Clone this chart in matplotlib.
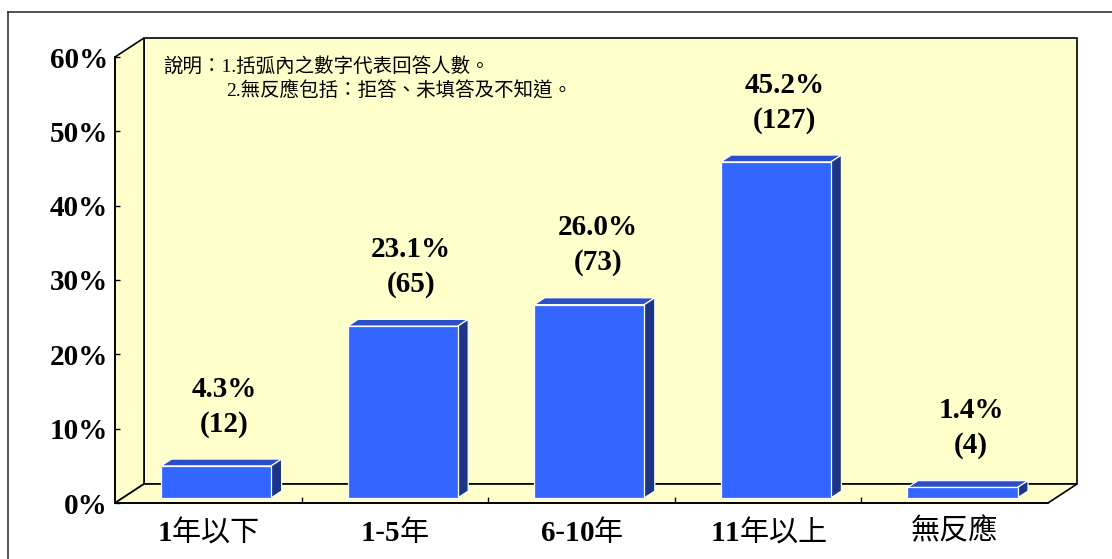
import re
import matplotlib.pyplot as plt
from matplotlib.patches import Polygon
from matplotlib.lines import Line2D

# data
categories = ['1年以下', '1-5年', '6-10年', '11年以上', '無反應']
percents = [4.3, 23.1, 26.0, 45.2, 1.4]
counts = [12, 65, 73, 127, 4]
yticks = [0, 10, 20, 30, 40, 50, 60]
ytick_labels = ['0%', '10%', '20%', '30%', '40%', '50%', '60%']
note_line1 = '說明：1.括弧內之數字代表回答人數。'
note_line2 = '2.無反應包括：拒答、未填答及不知道。'

plt.rcParams['font.family'] = ['Liberation Serif', 'Noto Sans CJK TC']
plt.rcParams['mathtext.fontset'] = 'custom'
plt.rcParams['mathtext.bf'] = 'Liberation Serif:bold'
plt.rcParams['mathtext.rm'] = 'Liberation Serif'


def mixed_label(s):
    # bold latin digits, regular CJK (mathtext for the digits)
    return re.sub(r'([0-9]+)', r'$\\mathbf{\1}$', s)


W, H = 1112, 559
fig = plt.figure(figsize=(W / 100, H / 100), dpi=100)

# front plane of the 3d box, in pixels
left, right, bottom, top = 115, 1048, 503, 57
ax = fig.add_axes([left / W, (H - bottom) / H, (right - left) / W, (bottom - top) / H])
n = len(categories)
ymax = 60
ax.set_xlim(0, n)
ax.set_ylim(0, ymax)

# depth of the box in data units (29 px right, 19 px up)
dx = 29 / (right - left) * n
dy = 19 / (bottom - top) * ymax

wall = '#FFFFCC'
edge_kw = dict(edgecolor='black', linewidth=1.2, clip_on=False, joinstyle='miter')
# back wall, left wall, floor
ax.add_patch(Polygon([(dx, dy), (n + dx, dy), (n + dx, ymax + dy), (dx, ymax + dy)],
                     facecolor=wall, zorder=0, **edge_kw))
ax.add_patch(Polygon([(0, 0), (dx, dy), (dx, ymax + dy), (0, ymax)],
                     facecolor=wall, zorder=0, **edge_kw))
ax.add_patch(Polygon([(0, 0), (n, 0), (n + dx, dy), (dx, dy)],
                     facecolor=wall, zorder=0, **edge_kw))

# bars
bw = 0.59
f0, f1 = 0.27, 0.63
front_c, top_c, side_c = '#3366FF', '#2A4FC6', '#1C3585'
bar_kw = dict(edgecolor='white', linewidth=0.9, clip_on=False, zorder=3)
for i, (p, c) in enumerate(zip(percents, counts)):
    x0 = i + 0.5 - bw / 2 + f0 * dx
    x1 = x0 + bw
    y0 = f0 * dy
    y1 = y0 + p
    ox = (f1 - f0) * dx
    oy = (f1 - f0) * dy
    ax.add_patch(Polygon([(x0, y1), (x1, y1), (x1 + ox, y1 + oy), (x0 + ox, y1 + oy)],
                         facecolor=top_c, **bar_kw))
    ax.add_patch(Polygon([(x1, y0), (x1 + ox, y0 + oy), (x1 + ox, y1 + oy), (x1, y1)],
                         facecolor=side_c, **bar_kw))
    ax.add_patch(Polygon([(x0, y0), (x1, y0), (x1, y1), (x0, y1)],
                         facecolor=front_c, **bar_kw))
    xc = (x0 + x1) / 2 + ox * 0.8
    ax.annotate(f'({c})', (xc, y1 + oy), xytext=(0, 20), textcoords='offset points',
                ha='center', va='baseline', fontsize=21, fontweight='bold', zorder=4)
    ax.annotate(f'{p:.1f}%', (xc, y1 + oy), xytext=(0, 45), textcoords='offset points',
                ha='center', va='baseline', fontsize=21, fontweight='bold', zorder=4)

# axes, ticks
for s in ['top', 'right']:
    ax.spines[s].set_visible(False)
for s in ['left', 'bottom']:
    ax.spines[s].set_linewidth(1.2)
    ax.spines[s].set_zorder(2)
ax.set_facecolor('none')
ax.set_yticks(yticks)
ax.set_yticklabels(ytick_labels, fontsize=21, fontweight='bold')
ax.tick_params(axis='y', direction='in', length=3.5, width=1, pad=5)
ax.set_xticks([i + 0.5 for i in range(n)])
ax.set_xticklabels([mixed_label(c) for c in categories], fontsize=21,
                   family='Noto Sans CJK TC')
ax.set_xticks(range(1, n), minor=True)
ax.tick_params(axis='x', which='major', length=0, pad=10)
ax.tick_params(axis='x', which='minor', direction='in', length=4.5, width=1)

# note on the back wall
note_kw = dict(fontsize=14, va='center', ha='left', zorder=5)
fig.text(163 / W, 1 - 66 / H, note_line1, **note_kw)
fig.text(226 / W, 1 - 91 / H, note_line2, **note_kw)

# outer frame (left and top edges show)
fig.add_artist(Line2D([8 / W, 8 / W], [0, 1 - 12 / H], color='#333333', linewidth=1.2))
fig.add_artist(Line2D([8 / W, 1], [1 - 12 / H, 1 - 12 / H], color='#333333', linewidth=1.2))

fig.savefig('out.png', dpi=100)
